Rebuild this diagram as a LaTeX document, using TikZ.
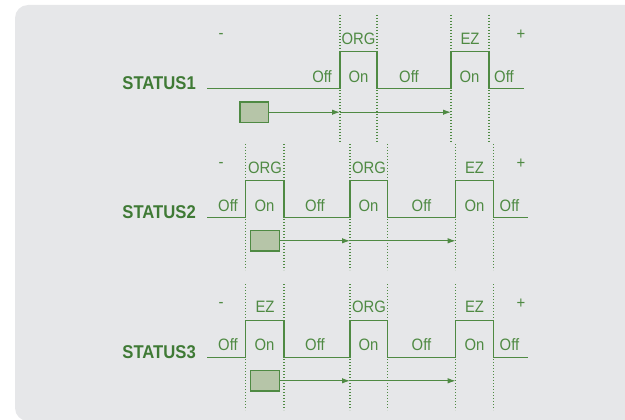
\documentclass[tikz,border=0pt]{standalone}
\usepackage{fontspec}
\setmainfont{Liberation Sans}
\newfontfamily\lblfont[FakeStretch=0.9]{Liberation Sans}
\usetikzlibrary{arrows.meta}
\definecolor{bggray}{HTML}{E6E7E9}
\definecolor{grn}{HTML}{4F8A43}
\definecolor{dgrn}{HTML}{3F7A35}
\definecolor{boxfill}{HTML}{B6C5A8}
\begin{document}
\begin{tikzpicture}[x=1pt,y=-1pt,
  wave/.style={draw=grn,line width=1.3pt},
  guide/.style={draw=grn,line width=1.2pt,dash pattern=on 1.2pt off 1.8pt},
  lbl/.style={text=grn,font=\lblfont\fontsize{16.5}{16.5}\selectfont,inner sep=0pt},
  stat/.style={text=dgrn,font=\lblfont\bfseries\fontsize{18.5}{18.5}\selectfont,inner sep=0pt,anchor=east},
  marker/.style={draw=grn,fill=boxfill,line width=1.2pt,minimum width=28.5pt,minimum height=20.5pt,inner sep=0pt},
  flow/.style={draw=grn,line width=1.1pt,-{Latex[length=8pt,width=5.5pt]}},
]
\useasboundingbox (0,0) rectangle (625,420);
\fill[bggray,rounded corners=13pt] (15,5) rectangle (660,421);

% ---------------- Row 1 ----------------
\foreach \gx in {340,377,451,489} \draw[guide] (\gx,15) -- (\gx,142);
\draw[wave] (207,88.3) -- (340,88.3) -- (340,51.7) -- (377,51.7) -- (377,88.3)
  -- (451,88.3) -- (451,51.7) -- (489,51.7) -- (489,88.3) -- (524,88.3);
\node[stat] (s1) at (196,83.5) {STATUS1};
\node[lbl] (m1) at (221,36) {-};
\node[lbl] (t1a) at (358.5,39) {ORG};
\node[lbl] (t1b) at (470,39) {EZ};
\node[lbl] (p1) at (521,35) {+};
\node[lbl,anchor=east] (o1a) at (332,76.7) {Off};
\node[lbl] (o1b) at (358.5,76.7) {On};
\node[lbl] (o1c) at (409,76.7) {Off};
\node[lbl] (o1d) at (469.5,76.7) {On};
\node[lbl] (o1e) at (504,76.7) {Off};
\node[marker] (b1) at (254.3,112.2) {};
\coordinate (g1a) at (340,112.2);
\coordinate (g1b) at (451,112.2);
\draw[flow] (b1.east) -- (g1a);
\draw[flow] (g1a) -- (g1b);

% ---------------- Row 2 ----------------
\foreach \gx in {245.7,284,350,387.3,455.7,493.3} \draw[guide] (\gx,144) -- (\gx,270);
\draw[wave] (207,217.3) -- (245.7,217.3) -- (245.7,180.7) -- (284,180.7) -- (284,217.3)
  -- (350,217.3) -- (350,180.7) -- (387.3,180.7) -- (387.3,217.3)
  -- (455.7,217.3) -- (455.7,180.7) -- (493.3,180.7) -- (493.3,217.3) -- (528,217.3);
\node[stat] (s2) at (196,212) {STATUS2};
\node[lbl] (m2) at (221,165) {-};
\node[lbl] (t2a) at (265,168) {ORG};
\node[lbl] (t2b) at (369,168) {ORG};
\node[lbl] (t2c) at (474.5,168) {EZ};
\node[lbl] (p2) at (521,164) {+};
\node[lbl] (o2a) at (228,205.7) {Off};
\node[lbl] (o2b) at (264.5,205.7) {On};
\node[lbl] (o2c) at (315,205.7) {Off};
\node[lbl] (o2d) at (368.5,205.7) {On};
\node[lbl] (o2e) at (421.5,205.7) {Off};
\node[lbl] (o2f) at (474.5,205.7) {On};
\node[lbl] (o2g) at (509.5,205.7) {Off};
\node[marker] (b2) at (264.9,240.8) {};
\coordinate (g2a) at (350,240.8);
\coordinate (g2b) at (455.7,240.8);
\draw[flow] (b2.east) -- (g2a);
\draw[flow] (g2a) -- (g2b);

% ---------------- Row 3 ----------------
\foreach \gx in {245.7,284,350,387.3,455.7,493.3} \draw[guide] (\gx,284) -- (\gx,410);
\draw[wave] (207,357.3) -- (245.7,357.3) -- (245.7,320.7) -- (284,320.7) -- (284,357.3)
  -- (350,357.3) -- (350,320.7) -- (387.3,320.7) -- (387.3,357.3)
  -- (455.7,357.3) -- (455.7,320.7) -- (493.3,320.7) -- (493.3,357.3) -- (528,357.3);
\node[stat] (s3) at (196,352) {STATUS3};
\node[lbl] (m3) at (221,305) {-};
\node[lbl] (t3a) at (265,307) {EZ};
\node[lbl] (t3b) at (369,307) {ORG};
\node[lbl] (t3c) at (474.5,307) {EZ};
\node[lbl] (p3) at (521,304) {+};
\node[lbl] (o3a) at (228,345) {Off};
\node[lbl] (o3b) at (264.5,345) {On};
\node[lbl] (o3c) at (315,345) {Off};
\node[lbl] (o3d) at (368.5,345) {On};
\node[lbl] (o3e) at (421.5,345) {Off};
\node[lbl] (o3f) at (474.5,345) {On};
\node[lbl] (o3g) at (509.5,345) {Off};
\node[marker] (b3) at (264.9,380.8) {};
\coordinate (g3a) at (350,380.8);
\coordinate (g3b) at (455.7,380.8);
\draw[flow] (b3.east) -- (g3a);
\draw[flow] (g3a) -- (g3b);
\end{tikzpicture}
\end{document}
